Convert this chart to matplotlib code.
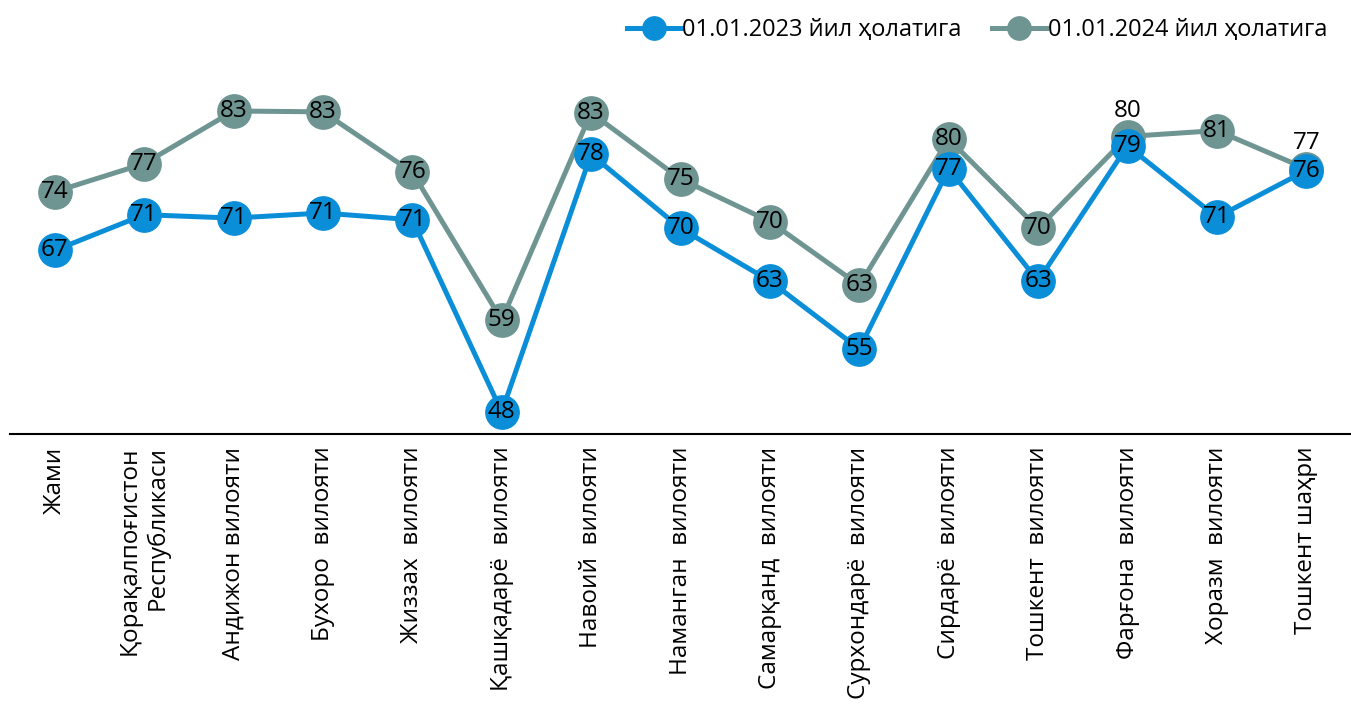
import matplotlib
matplotlib.use("Agg")
import matplotlib.pyplot as plt

plt.rcParams['font.family'] = ['Open Sans', 'DejaVu Sans']

categories = [
    "Жами",
    "Қорақалпоғистон\nРеспубликаси",
    "Андижон вилояти",
    "Бухоро  вилояти",
    "Жиззах  вилояти",
    "Қашқадарё  вилояти",
    "Навоий  вилояти",
    "Наманган  вилояти",
    "Самарқанд  вилояти",
    "Сурхондарё  вилояти",
    "Сирдарё  вилояти",
    "Тошкент  вилояти",
    "Фарғона  вилояти",
    "Хоразм  вилояти",
    "Тошкент шаҳри",
]
values_2023 = [67.0, 71.2, 70.8, 71.4, 70.6, 48.0, 78.3, 69.6, 63.4, 55.4, 76.6, 63.4, 79.3, 70.9, 76.4]
values_2024 = [73.9, 77.2, 83.4, 83.3, 76.2, 58.8, 83.2, 75.4, 70.4, 62.9, 80.1, 69.6, 80.4, 81.1, 76.6]
series_names = ["01.01.2023 йил ҳолатига", "01.01.2024 йил ҳолатига"]

c2023 = "#0B8ED8"
c2024 = "#6E9592"

fig = plt.figure(figsize=(13.51, 7.04), dpi=100)
ax = fig.add_axes([10/1351, 1 - 434/704, 1 - 10/1351, (434 - 60)/704])

x = list(range(len(categories)))
ax.plot(x, values_2024, color=c2024, lw=3.6, marker='o', ms=24, zorder=2, label=series_names[1])
ax.plot(x, values_2023, color=c2023, lw=3.6, marker='o', ms=24, zorder=3, label=series_names[0])

for i, v in enumerate(values_2024):
    if i in (12, 14):
        ax.annotate(f"{v:.0f}", (i, v), xytext=(0, 10), textcoords='offset points',
                    ha='center', va='bottom', fontsize=17.5, color='black', zorder=5)
    else:
        ax.text(i, v, f"{v:.0f}", ha='center', va='center', fontsize=17.5, color='black', zorder=5)
for i, v in enumerate(values_2023):
    ax.text(i, v, f"{v:.0f}", ha='center', va='center', fontsize=17.5, color='black', zorder=6)

ax.set_xlim(-0.5, len(categories) - 0.5)
ax.set_ylim(45.4, 89.4)
ax.set_xticks(x)
ax.set_xticklabels(categories, rotation=90, ha='center', va='top', multialignment='right', fontsize=17.5)
ax.tick_params(axis='x', length=0, pad=9)
ax.set_yticks([])
for s in ['left', 'right', 'top']:
    ax.spines[s].set_visible(False)
ax.spines['bottom'].set_linewidth(1.5)
ax.spines['bottom'].set_color('black')

handles, labels = ax.get_legend_handles_labels()
leg = fig.legend(handles[::-1], labels[::-1], loc='upper right', bbox_to_anchor=(0.998, 1.004),
                 ncol=2, frameon=False, fontsize=17, handlelength=2.3, handletextpad=0.05,
                 columnspacing=1.3, markerscale=0.7)

fig.savefig("out.png", dpi=100)
